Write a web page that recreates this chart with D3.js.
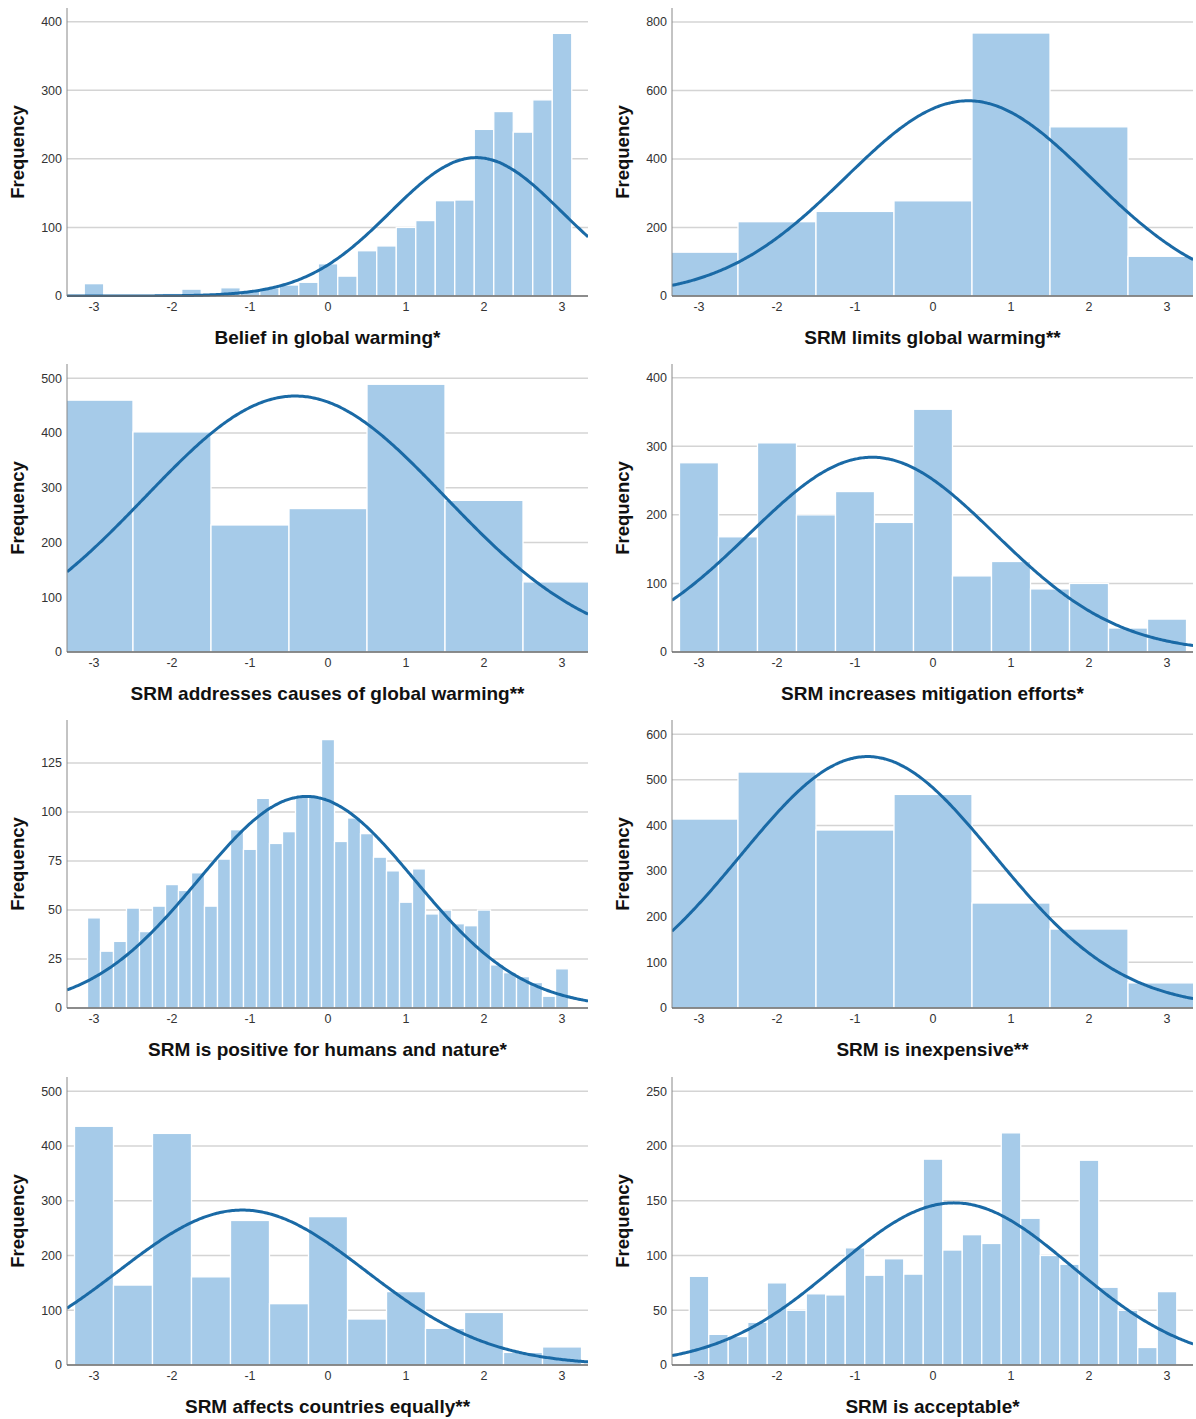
<!DOCTYPE html>
<html>
<head>
<meta charset="utf-8">
<script src="https://cdn.jsdelivr.net/npm/d3@7"></script>
<style>
  body { margin: 0; background: #fff; }
  svg { display: block; font-family: "Liberation Sans", Arial, sans-serif; }
</style>
</head>
<body>
<svg id="chart" width="1196" height="1419"></svg>
<script>
// panel titles, in reading order (left to right, top to bottom)
const titles = [
  'Belief in global warming*',
  'SRM limits global warming**',
  'SRM addresses causes of global warming**',
  'SRM increases mitigation efforts*',
  'SRM is positive for humans and nature*',
  'SRM is inexpensive**',
  'SRM affects countries equally**',
  'SRM is acceptable*'
];

// bin width of each histogram (first bin is centred on -3)
const binWidths = [0.25, 1, 1, 0.5, 1 / 6, 1, 0.5, 0.25];

// frequencies per bin
const beliefCounts = [18, 0, 0, 2, 4, 10, 0, 12, 8, 12, 16, 20, 47, 29, 66, 73, 100, 110, 139, 140, 243, 269, 239, 286, 383];
const limitsCounts = [128, 217, 247, 278, 768, 494, 116];
const causesCounts = [460, 402, 232, 262, 489, 277, 128];
const mitigationCounts = [276, 168, 305, 200, 234, 189, 354, 111, 132, 92, 100, 35, 48];
const positiveCounts = [46, 29, 34, 51, 39, 52, 63, 60, 69, 52, 76, 91, 81, 107, 84, 90, 108, 108, 137,
  85, 97, 89, 77, 70, 54, 71, 48, 50, 43, 42, 50, 22, 18, 16, 13, 6, 20];
const inexpensiveCounts = [414, 517, 390, 468, 230, 173, 55];
const equallyCounts = [436, 146, 423, 161, 264, 112, 271, 84, 134, 67, 96, 23, 33];
const acceptableCounts = [81, 28, 26, 39, 75, 50, 65, 64, 107, 82, 97, 83, 188, 105, 119, 111, 212, 134, 100, 92, 187, 71, 50, 16, 67];

// fitted normal curve (mean, standard deviation)
const curveMeans = [1.9, 0.45, -0.42, -0.78, -0.275, -0.84, -1.10, 0.27];
const curveSDs = [1.10, 1.573, 1.92, 1.576, 1.384, 1.627, 1.586, 1.515];

// y axis ticks and top of each y scale
const yTicks = [
  [0, 100, 200, 300, 400],
  [0, 200, 400, 600, 800],
  [0, 100, 200, 300, 400, 500],
  [0, 100, 200, 300, 400],
  [0, 25, 50, 75, 100, 125],
  [0, 100, 200, 300, 400, 500, 600],
  [0, 100, 200, 300, 400, 500],
  [0, 50, 100, 150, 200, 250]
];
const yMaxes = [420, 841, 526, 420, 147, 631, 526, 263];

const xTicks = [-3, -2, -1, 0, 1, 2, 3];
const xDomain = [-3.346, 3.333];

const allCounts = [beliefCounts, limitsCounts, causesCounts, mitigationCounts,
  positiveCounts, inexpensiveCounts, equallyCounts, acceptableCounts];

const svg = d3.select('#chart');
const plotW = 521, plotH = 288;
const colX = [67, 672];
const rowY = [8, 364, 720, 1077];

const barFill = '#a6cbe9';
const curveColor = '#1a6aa6';

allCounts.forEach((counts, i) => {
  const left = colX[i % 2];
  const top = rowY[Math.floor(i / 2)];
  const bw = binWidths[i];
  const g = svg.append('g').attr('transform', `translate(${left},${top})`);

  const x = d3.scaleLinear().domain(xDomain).range([0, plotW]);
  const y = d3.scaleLinear().domain([0, yMaxes[i]]).range([plotH, 0]);

  g.append('clipPath').attr('id', 'clip' + i)
    .append('rect').attr('width', plotW).attr('height', plotH + 1);

  // grid lines
  g.append('g')
    .selectAll('line')
    .data(yTicks[i].filter(d => d > 0))
    .join('line')
    .attr('x1', 0).attr('x2', plotW)
    .attr('y1', d => y(d)).attr('y2', d => y(d))
    .attr('stroke', '#d4d4d4')
    .attr('stroke-width', 1.5);

  const bins = counts.map((c, k) => ({ mid: -3 + k * bw, count: c }));
  const body = g.append('g').attr('clip-path', `url(#clip${i})`);

  body.selectAll('rect.bar')
    .data(bins.filter(d => d.count > 0))
    .join('rect')
    .attr('class', 'bar')
    .attr('x', d => x(d.mid - bw / 2))
    .attr('width', d => x(d.mid + bw / 2) - x(d.mid - bw / 2))
    .attr('y', d => y(d.count))
    .attr('height', d => plotH - y(d.count))
    .attr('fill', barFill)
    .attr('stroke', '#fff')
    .attr('stroke-width', 1.3);

  // normal curve scaled to the histogram
  const n = d3.sum(counts);
  const mu = curveMeans[i], sd = curveSDs[i];
  const pdf = v => Math.exp(-((v - mu) ** 2) / (2 * sd * sd)) / (sd * Math.sqrt(2 * Math.PI));
  const curvePts = d3.range(xDomain[0], xDomain[1] + 0.01, 0.02).map(v => [v, n * bw * pdf(v)]);
  body.append('path')
    .datum(curvePts)
    .attr('fill', 'none')
    .attr('stroke', curveColor)
    .attr('stroke-width', 3)
    .attr('d', d3.line().x(d => x(d[0])).y(d => y(d[1])).curve(d3.curveBasis));

  // axes
  g.append('line')
    .attr('x1', 0).attr('x2', 0).attr('y1', 0).attr('y2', plotH)
    .attr('stroke', '#888').attr('stroke-width', 1);
  g.append('line')
    .attr('x1', 0).attr('x2', plotW).attr('y1', plotH).attr('y2', plotH)
    .attr('stroke', '#666').attr('stroke-width', 1.3);

  g.append('g')
    .selectAll('text')
    .data(yTicks[i])
    .join('text')
    .attr('x', -5)
    .attr('y', d => y(d))
    .attr('dy', '0.35em')
    .attr('text-anchor', 'end')
    .attr('font-size', 12.5)
    .attr('fill', '#333')
    .text(d => d);

  g.append('g')
    .selectAll('text')
    .data(xTicks)
    .join('text')
    .attr('x', d => x(d))
    .attr('y', plotH + 11)
    .attr('dy', '0.35em')
    .attr('text-anchor', 'middle')
    .attr('font-size', 12.5)
    .attr('fill', '#333')
    .text(d => d);

  g.append('text')
    .attr('x', plotW / 2)
    .attr('y', plotH + 41)
    .attr('dy', '0.35em')
    .attr('text-anchor', 'middle')
    .attr('font-size', 19)
    .attr('font-weight', 'bold')
    .attr('fill', '#111')
    .text(titles[i]);

  g.append('text')
    .attr('transform', `translate(${-49},${plotH / 2}) rotate(-90)`)
    .attr('dy', '0.35em')
    .attr('text-anchor', 'middle')
    .attr('font-size', 18.5)
    .attr('font-weight', 'bold')
    .attr('fill', '#111')
    .text('Frequency');
});
</script>
</body>
</html>
